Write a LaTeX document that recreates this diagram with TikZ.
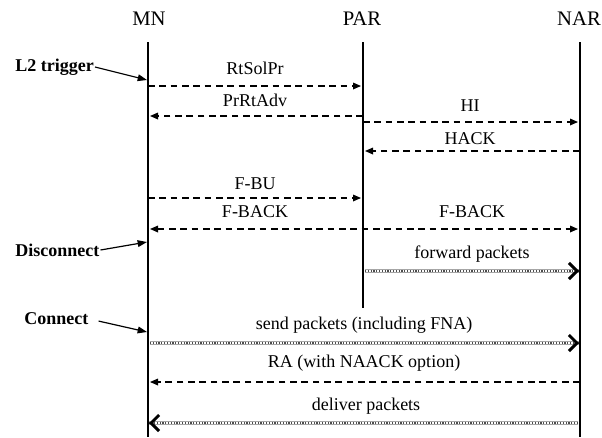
\documentclass[tikz,border=0pt]{standalone}
\usepackage{fontspec}
\setmainfont{Liberation Serif}
\newfontfamily\diagfont{Liberation Serif}
\usetikzlibrary{arrows.meta,decorations.markings}

\tikzset{
  life/.style={line width=1.1pt},
  msg/.style={line width=0.9pt, dash pattern=on 5pt off 3.5pt},
  pkt/.style={preaction={draw=gray!70, line width=0.6pt, double=white, double distance=1.9pt},
    preaction={draw=gray!60!black, line width=1.9pt, dash pattern=on 0.9pt off 1.2pt},
    postaction={decorate},
    decoration={markings, mark=at position 1 with {\arrow{Straight Barb[length=6pt,width=12pt,line width=2.2pt]}}}},
  head/.style={font=\diagfont\fontsize{15.5}{18}\selectfont, inner sep=0.75pt},
  lbl/.style={font=\diagfont\fontsize{13.5}{16}\selectfont, inner sep=0.75pt},
  cue/.style={font=\diagfont\bfseries\fontsize{13.5}{16}\selectfont, inner sep=0.75pt, anchor=west},
  cuearrow/.style={line width=0.9pt, -{Triangle[length=7pt,width=5pt]}},
  >={Triangle[length=6pt,width=5pt]}
}

\begin{document}
\begin{tikzpicture}[x=0.75pt,y=0.75pt,yscale=-1,xscale=1]
\useasboundingbox (0,0) rectangle (602,437);

% Lifeline heads
\node[head] (MN) at (149,19) {MN};
\node[head] (PAR) at (362,19) {PAR};
\node[head] (NAR) at (579,19) {NAR};

% Lifelines
\coordinate (MNtop) at (148,42);
\coordinate (MNbot) at (148,437);
\coordinate (PARtop) at (363,42);
\coordinate (PARbot) at (363,308);
\coordinate (NARtop) at (580,42);
\coordinate (NARbot) at (580,437);
\draw[life] (MNtop) -- (MNbot);
\draw[life] (PARtop) -- (PARbot);
\draw[life] (NARtop) -- (NARbot);

% RtSolPr
\coordinate (rs1) at (148,86);
\coordinate (rs2) at (361,86);
\draw[msg,->] (rs1) -- (rs2);
\node[lbl] (rtsolpr) at (255,68) {RtSolPr};
% PrRtAdv
\coordinate (pr1) at (363,116);
\coordinate (pr2) at (150,116);
\draw[msg,->] (pr1) -- (pr2);
\node[lbl] (prrtadv) at (255,100) {PrRtAdv};
% HI
\coordinate (hi1) at (363,122);
\coordinate (hi2) at (578,122);
\draw[msg,->] (hi1) -- (hi2);
\node[lbl] (hi) at (470,106) {HI};
% HACK
\coordinate (ha1) at (580,151);
\coordinate (ha2) at (365,151);
\draw[msg,->] (ha1) -- (ha2);
\node[lbl] (hack) at (470,139) {HACK};
% F-BU
\coordinate (fb1) at (148,198);
\coordinate (fb2) at (361,198);
\draw[msg,->] (fb1) -- (fb2);
\node[lbl] (fbu) at (255,184) {F-BU};
% F-BACK
\coordinate (fk1) at (150,229);
\coordinate (fk2) at (578,229);
\draw[msg,<->] (fk1) -- (fk2);
\node[lbl] (fback1) at (255,212) {F-BACK};
\node[lbl] (fback2) at (472,212) {F-BACK};
% forward packets
\coordinate (fw1) at (365,271);
\coordinate (fw2) at (579,271);
\path[pkt] (fw1) -- (fw2);
\node[lbl] (fwd) at (472,254) {forward packets};
% send packets
\coordinate (sp1) at (150,343);
\coordinate (sp2) at (579,343);
\path[pkt] (sp1) -- (sp2);
\node[lbl] (send) at (364,325) {send packets (including FNA)};
% RA
\coordinate (ra1) at (580,382);
\coordinate (ra2) at (150,382);
\draw[msg,->] (ra1) -- (ra2);
\node[lbl] (ra) at (364,363) {RA (with NAACK option)};
% deliver packets
\coordinate (dp1) at (578,423);
\coordinate (dp2) at (149,423);
\path[pkt] (dp1) -- (dp2);
\node[lbl] (deliver) at (366,406) {deliver packets};

% Events at MN
\node[cue] (l2) at (14,67) {L2 trigger};
\coordinate (l2tip) at (147,80);
\draw[cuearrow] (l2.east) -- (l2tip);
\node[cue] (disc) at (14,250) {Disconnect};
\coordinate (disctip) at (147,242);
\draw[cuearrow] (disc.east) -- (disctip);
\node[cue] (conn) at (23,319) {Connect};
\coordinate (conntip) at (147,332);
\draw[cuearrow, shorten <=7pt] (conn.east) -- (conntip);

\end{tikzpicture}
\end{document}
